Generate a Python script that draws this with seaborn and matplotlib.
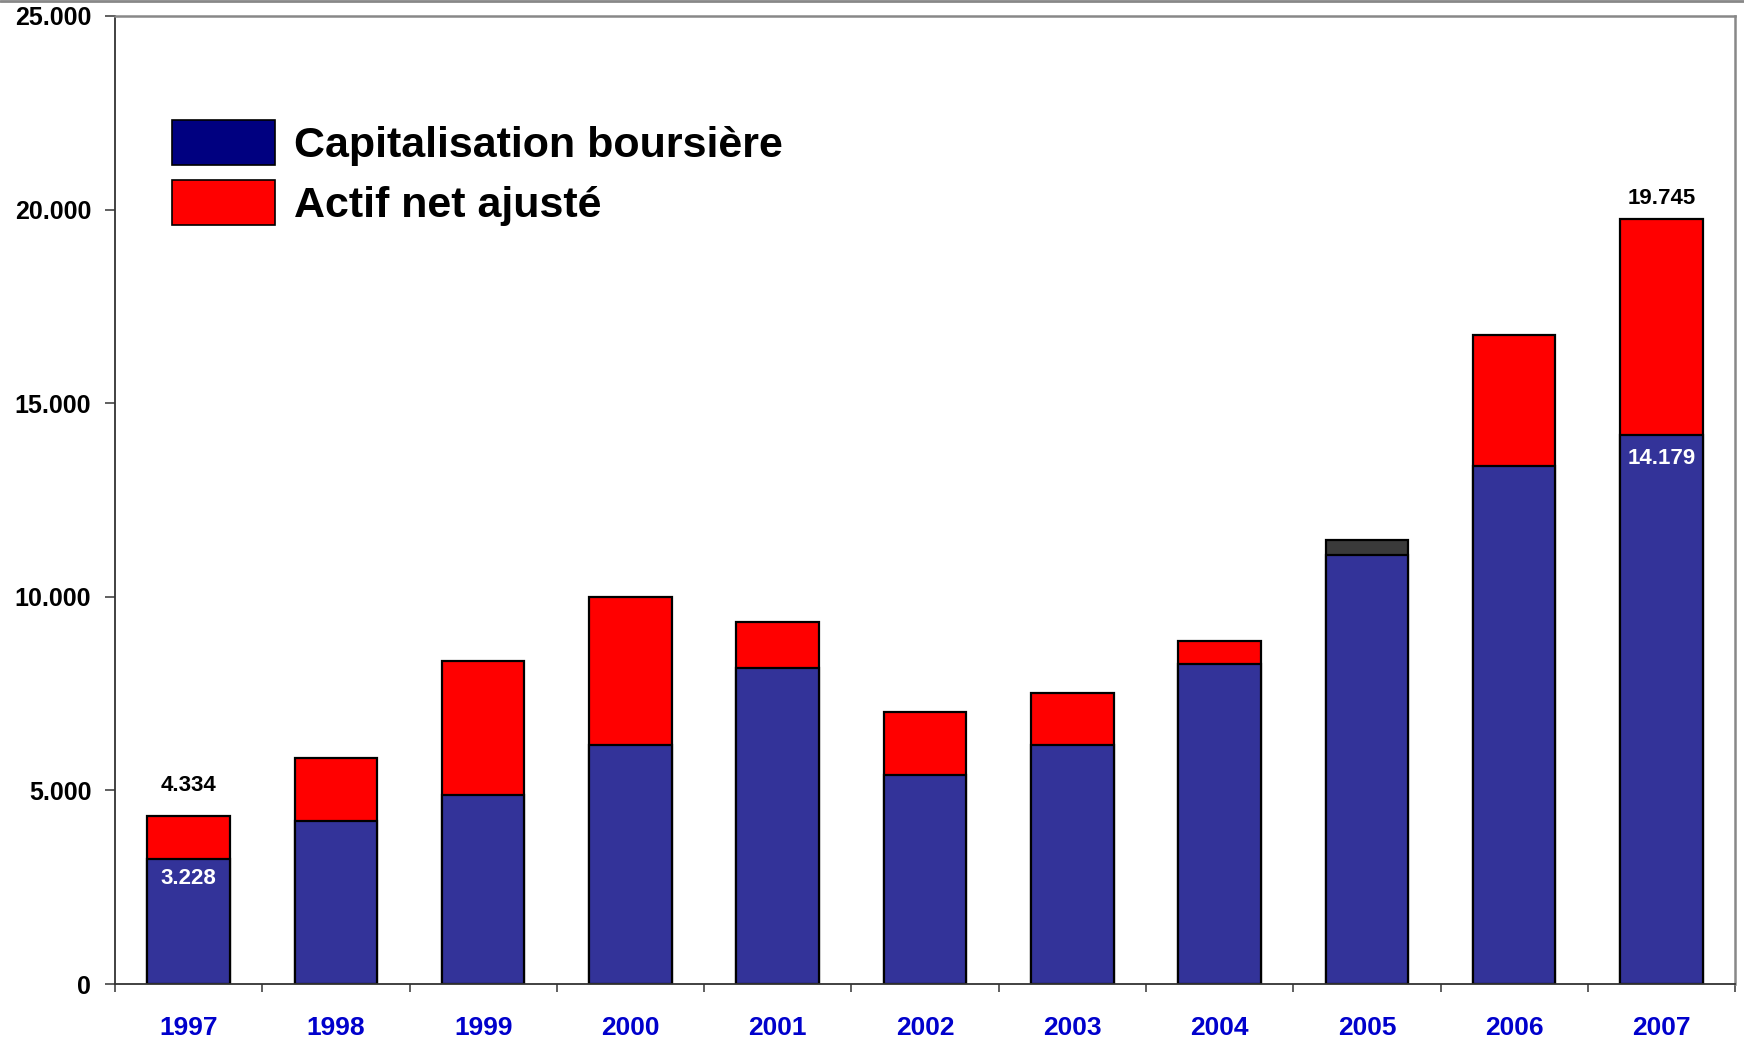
import numpy as np
import pandas as pd
import matplotlib
matplotlib.use('Agg')
import matplotlib.pyplot as plt
import seaborn as sns
from matplotlib.patches import Patch
from matplotlib.lines import Line2D
from matplotlib.ticker import FuncFormatter

# Valeurs (en M EUR)
years = ['1997', '1998', '1999', '2000', '2001', '2002', '2003', '2004', '2005', '2006', '2007']
capitalisation = [3228, 4210, 4880, 6170, 8150, 5390, 6170, 8260, 11080, 13380, 14179]
actif_net = [4334, 5850, 8350, 9990, 9360, 7030, 7520, 8870, 11470, 16770, 19745]

# Etiquettes affichees sur les barres (annee : decalage en points)
top_labels = {'1997': 22, '2007': 15}
inner_labels = {'1997': 14, '2007': 17}

df = pd.DataFrame({'annee': years, 'cap': capitalisation, 'ana': actif_net})

sns.set_style('white')
plt.rcParams['font.family'] = ['Liberation Sans', 'DejaVu Sans']
plt.rcParams['font.weight'] = 'bold'
plt.rcParams['text.color'] = 'black'
plt.rcParams['xtick.color'] = 'black'
plt.rcParams['ytick.color'] = 'black'

fig = plt.figure(figsize=(17.44, 10.38), dpi=100)
ax = fig.add_axes([0.0659, 0.052, 0.929, 0.9326])

BLUE = '#333399'
RED = '#FF0000'

# Actif net ajuste (barre totale) puis capitalisation par-dessus
sns.barplot(data=df, x='annee', y='ana', color=RED, saturation=1, width=0.56,
            edgecolor='black', linewidth=1.6, ax=ax)
n = len(years)
# segment 2005 rendu en gris fonce dans l'original
ax.patches[years.index('2005')].set_facecolor('#3a3a3a')
sns.barplot(data=df, x='annee', y='cap', color=BLUE, saturation=1, width=0.56,
            edgecolor='black', linewidth=1.6, ax=ax)

ax.set_ylim(0, 25000)
ax.set_yticks(np.arange(0, 25001, 5000))
ax.yaxis.set_major_formatter(FuncFormatter(lambda v, p: f'{v:,.0f}'.replace(',', '.')))
ax.tick_params(axis='y', which='major', left=True, length=7, width=1.2, color='#444444',
               pad=10, labelsize=18, labelcolor='black')
ax.set_xticks(np.arange(-0.5, n, 1), minor=True)
ax.tick_params(axis='x', which='minor', bottom=True, length=6, width=1.2, color='#444444')
ax.tick_params(axis='x', which='major', bottom=False, length=0, pad=23, labelsize=19,
               labelcolor='#0000CC')
for lab in ax.get_xticklabels() + ax.get_yticklabels():
    lab.set_fontweight('bold')

ax.set_xlabel('')
ax.set_ylabel('')
for side in ['left', 'bottom']:
    ax.spines[side].set_color('#333333')
    ax.spines[side].set_linewidth(1.3)
for side in ['top', 'right']:
    ax.spines[side].set_color('#888888')
    ax.spines[side].set_linewidth(1.8)

# Valeurs affichees
for yr, off in top_labels.items():
    i = years.index(yr)
    v = actif_net[i]
    ax.annotate(f'{v:,}'.replace(',', '.'), (i, v), xytext=(0, off), textcoords='offset points',
                ha='center', va='center', fontsize=16, fontweight='bold', color='black')
for yr, off in inner_labels.items():
    i = years.index(yr)
    v = capitalisation[i]
    ax.annotate(f'{v:,}'.replace(',', '.'), (i, v), xytext=(0, -off), textcoords='offset points',
                ha='center', va='center', fontsize=16, fontweight='bold', color='white')

handles = [Patch(facecolor='#000080', edgecolor='black', linewidth=1.2, label='Capitalisation boursière'),
           Patch(facecolor=RED, edgecolor='black', linewidth=1.2, label='Actif net ajusté')]
ax.legend(handles=handles, loc='upper left', bbox_to_anchor=(0.035, 0.893), frameon=False,
          prop={'family': 'Liberation Sans', 'weight': 'bold', 'size': 31},
          handlelength=2.4, handleheight=1.25, handletextpad=0.45, labelspacing=0.32,
          borderpad=0, borderaxespad=0)

# lisere gris en haut de l'image
fig.add_artist(Line2D([0, 1], [0.999, 0.999], transform=fig.transFigure, color='#888888', linewidth=2))

fig.savefig('out.png', dpi=100)
